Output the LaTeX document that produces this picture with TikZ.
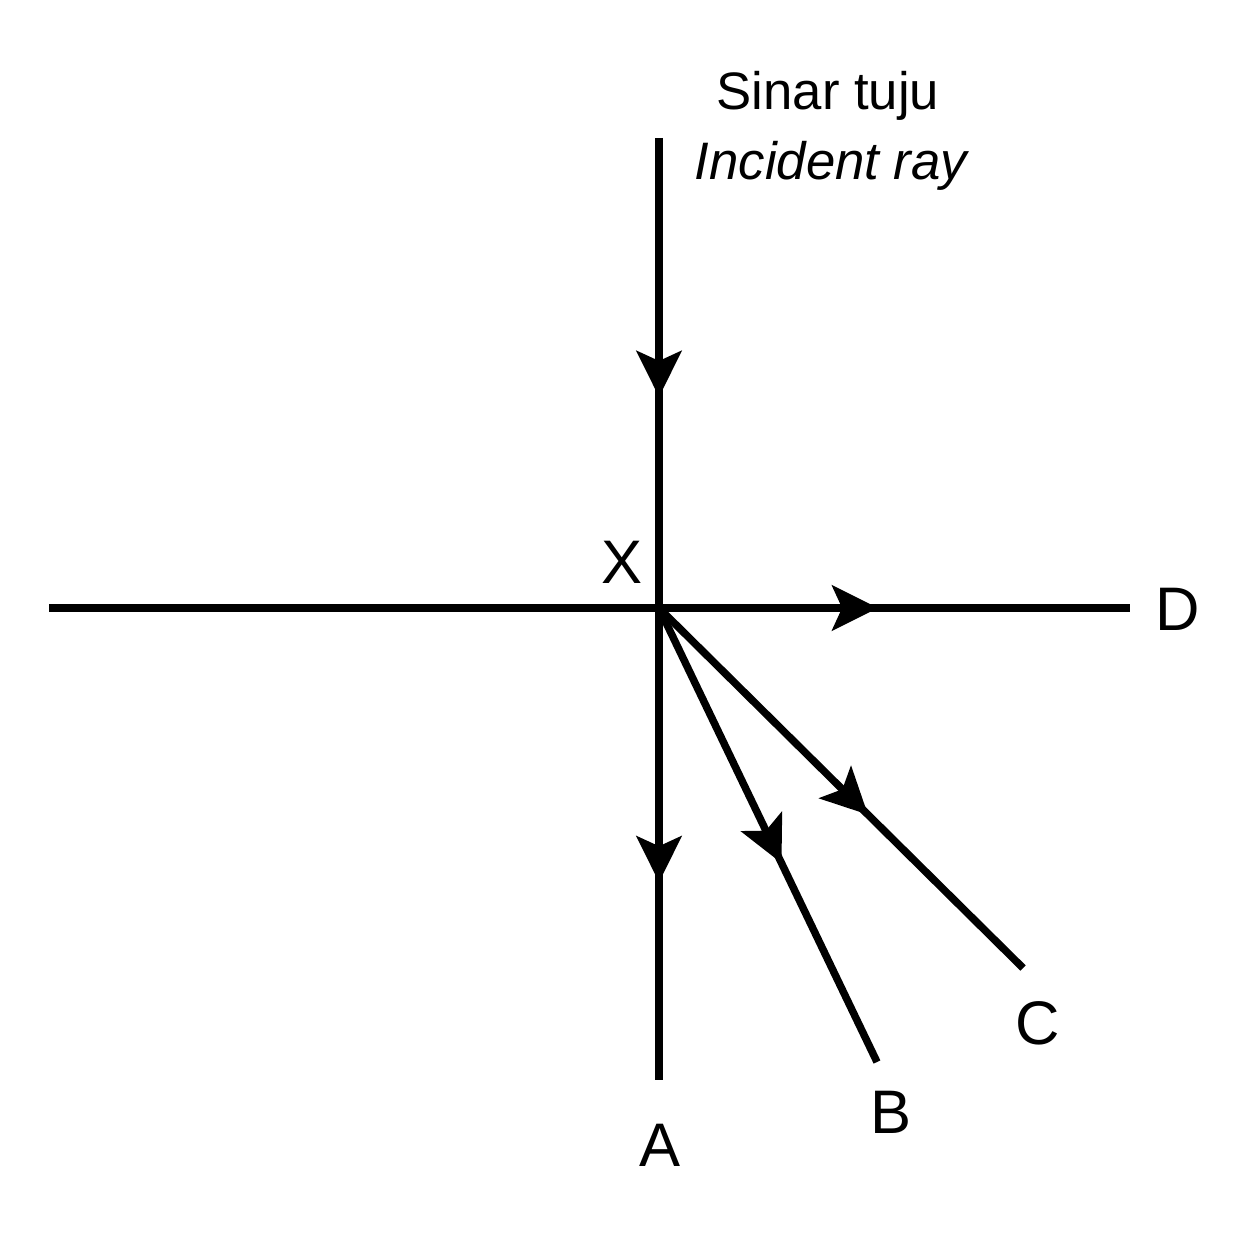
\documentclass[tikz,border=0pt]{standalone}
\usepackage{fontspec}
\setmainfont{Liberation Sans}
\usetikzlibrary{arrows.meta,decorations.markings}

\begin{document}
\begin{tikzpicture}
            [ray/.style={line width=0.075cm, black},
            midarrow/.style={postaction={decorate, decoration={markings,
                mark=at position #1 with {\arrow{Stealth[length=0.46cm, width=0.45cm, inset=0.1cm]}}}}},
            letter/.style={inner sep=0pt, anchor=base, font=\fontsize{17.5}{20}\selectfont},
            title/.style={inner sep=0pt, anchor=base, font=\fontsize{15}{18}\selectfont}]

            \useasboundingbox (0,0) rectangle (12.5,-12.51);

            \coordinate (x) at (6.59,-6.08);
            \coordinate (src) at (6.59,-1.38);
            \coordinate (left) at (0.49,-6.08);
            \coordinate (right) at (11.30,-6.08);
            \coordinate (a) at (6.59,-10.80);
            \coordinate (b) at (8.77,-10.62);
            \coordinate (c) at (10.23,-9.68);

            \node[title] (sinar) at (8.28,-1.10) {Sinar tuju};
            \node[title] (incident) at (8.31,-1.80) {\itshape Incident ray};
            \node[letter] (lx) at (6.22,-5.83) {X};
            \node[letter] (ld) at (11.78,-6.30) {D};
            \node[letter] (la) at (6.595,-11.66) {A};
            \node[letter] (lb) at (8.91,-11.33) {B};
            \node[letter] (lc) at (10.38,-10.44) {C};

            \draw[ray, midarrow=0.551] (src) -- (x);
            \draw[ray, midarrow=0.767] (left) -- (right);
            \draw[ray, midarrow=0.581] (x) -- (a);
            \draw[ray, midarrow=0.562] (x) -- (b);
            \draw[ray, midarrow=0.574] (x) -- (c);

        \end{tikzpicture}
\end{document}
